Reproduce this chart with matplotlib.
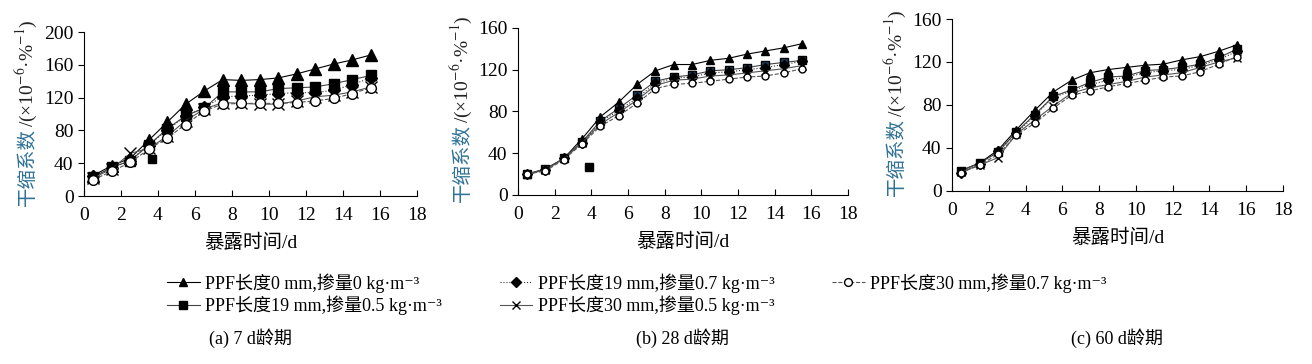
import matplotlib.pyplot as plt

plt.rcParams['font.family'] = ['Liberation Serif', 'Noto Sans CJK SC', 'DejaVu Serif']
plt.rcParams['mathtext.fontset'] = 'stix'

# data
days = [0.5, 1.5, 2.5, 3.5, 4.5, 5.5, 6.5, 7.5, 8.5, 9.5, 10.5, 11.5, 12.5, 13.5, 14.5, 15.5]

a_tri = [25, 37, 46, 68, 90, 112, 128, 142, 141, 142, 144, 149, 155, 161, 166, 172]
a_sq = [23, 35, 43, 62, 82, 98, 107, 127, 127, 127, 131, 132, 133, 137, 142, 147]
a_dia = [24, 34, 43, 63, 80, 98, 108, 121, 122, 123, 125, 126, 126, 129, 136, 144]
a_x = [22, 33, 52, 58, 73, 92, 106, 114, 113, 112, 112, 116, 121, 123, 127, 133]
a_o = [20, 30, 41, 57, 71, 87, 104, 112, 113, 113, 113, 114, 116, 119, 125, 132]
a_stray = ([3.7], [45])

b_tri = [20, 25, 35, 54, 75, 89, 106, 119, 125, 125, 129, 131, 135, 138, 141, 145]
b_sq = [20, 25, 35, 51, 71, 83, 96, 109, 113, 115, 119, 120, 122, 125, 127, 129]
b_dia = [20, 24, 35, 50, 70, 81, 93, 107, 112, 113, 117, 118, 120, 122, 125, 128]
b_x = [20, 24, 35, 50, 68, 79, 91, 105, 110, 111, 114, 115, 117, 119, 121, 124]
b_o = [20, 23, 34, 49, 66, 76, 88, 102, 106, 107, 109, 111, 113, 114, 117, 121]
b_stray = ([3.9], [27])

c_tri = [19, 26, 38, 57, 75, 92, 103, 110, 113, 115, 117, 118, 122, 125, 130, 136]
c_sq = [19, 26, 36, 55, 71, 88, 94, 101, 106, 107, 112, 113, 115, 118, 124, 132]
c_dia = [17, 25, 37, 54, 70, 87, 93, 99, 103, 106, 110, 112, 113, 117, 122, 130]
c_x = [18, 24, 31, 53, 66, 79, 91, 96, 99, 102, 106, 108, 110, 115, 120, 124]
c_o = [17, 24, 34, 52, 63, 77, 89, 93, 97, 100, 103, 106, 107, 111, 118, 125]

labels = ['PPF长度0 mm,掺量0 kg·m⁻³',
          'PPF长度19 mm,掺量0.5 kg·m⁻³',
          'PPF长度19 mm,掺量0.7 kg·m⁻³',
          'PPF长度30 mm,掺量0.5 kg·m⁻³',
          'PPF长度30 mm,掺量0.7 kg·m⁻³']
captions = ['(a) 7 d龄期', '(b) 28 d龄期', '(c) 60 d龄期']
ymax = [200, 160, 160]

panels = [
    [a_tri, a_sq, a_dia, a_x, a_o],
    [b_tri, b_sq, b_dia, b_x, b_o],
    [c_tri, c_sq, c_dia, c_x, c_o],
]
strays = [a_stray, b_stray, None]

# styles per series
styles = [
    dict(marker='^', ls='-', mfc='black', color='black'),
    dict(marker='s', ls='-', mfc='black', color='#444444'),
    dict(marker='D', ls=':', mfc='black', color='#333333'),
    dict(marker='x', ls='-', mfc='black', color='#555555'),
    dict(marker='o', ls='--', mfc='white', color='#555555'),
]
msize = [[8, 7, 6, 8, 7], [6, 6, 5, 6, 5], [6, 6, 5, 6, 5]]

boxes = [
    [0.064, 0.4615, 0.2538, 0.4505],
    [0.3948, 0.4643, 0.2515, 0.4588],
    [0.7256, 0.4753, 0.2523, 0.4725],
]
cap_x = [250, 682, 1117]
# y label start (pixels from left, from top) for each panel
ylab_pos = [(33, 206), (468, 202), (902, 196)]

fig = plt.figure(figsize=(13.12, 3.64), dpi=100)
handles = []
first_parts = []
for p in range(3):
    ax = fig.add_axes(boxes[p])
    for i, ys in enumerate(panels[p]):
        st = styles[i]
        mfc = st['mfc']
        if p == 1 and i == 1:
            mfc = '#1d3f5c'
        line, = ax.plot(days, ys, marker=st['marker'], ls=st['ls'], color=st['color'],
                        mfc=mfc, mec='black', ms=msize[p][i], lw=0.8, label=labels[i])
        if p == 0:
            handles.append(line)
    if strays[p] is not None:
        ax.plot(strays[p][0], strays[p][1], 's', color='black', ms=6)
    ax.set_xlim(0, 18)
    ax.set_ylim(0, ymax[p])
    ax.set_xticks(range(0, 19, 2))
    ax.set_yticks(range(0, ymax[p] + 1, 40))
    ax.spines['top'].set_visible(False)
    ax.spines['right'].set_visible(False)
    ax.tick_params(axis='x', direction='in', length=4, labelsize=14, pad=8)
    ax.tick_params(axis='y', direction='out', length=4, labelsize=14)
    ax.set_xlabel('暴露时间/d', fontsize=14, labelpad=7)
    # two-colour y label: Chinese part first, rest chained after it
    x0, y0 = ylab_pos[p]
    t1 = fig.text(x0 / 1312, 1 - y0 / 364, '干缩系数', rotation=90, rotation_mode='anchor',
                  ha='left', va='baseline', fontsize=14, color='#2f7296')
    first_parts.append((t1, x0))
    fig.text(cap_x[p] / 1312, 1 - 338 / 364, captions[p], ha='center', va='center', fontsize=13)

fig.canvas.draw()
renderer = fig.canvas.get_renderer()
for t1, x0 in first_parts:
    bb = t1.get_window_extent(renderer)
    fig.text(x0 / 1312, bb.y1 / fig.bbox.height + 0.002, '/(×10$^{-6}$·%$^{-1}$)', rotation=90,
             rotation_mode='anchor', ha='left', va='baseline', fontsize=14, color='#222222')

fig.legend(handles=handles, ncol=3, loc='upper left', bbox_to_anchor=(158 / 1312, 1 - 264 / 364),
           frameon=False, fontsize=13, handlelength=1.8, handletextpad=0.3,
           columnspacing=3.2, labelspacing=0.15, borderpad=0, markerscale=0.8)

plt.savefig('out.png', dpi=100)
